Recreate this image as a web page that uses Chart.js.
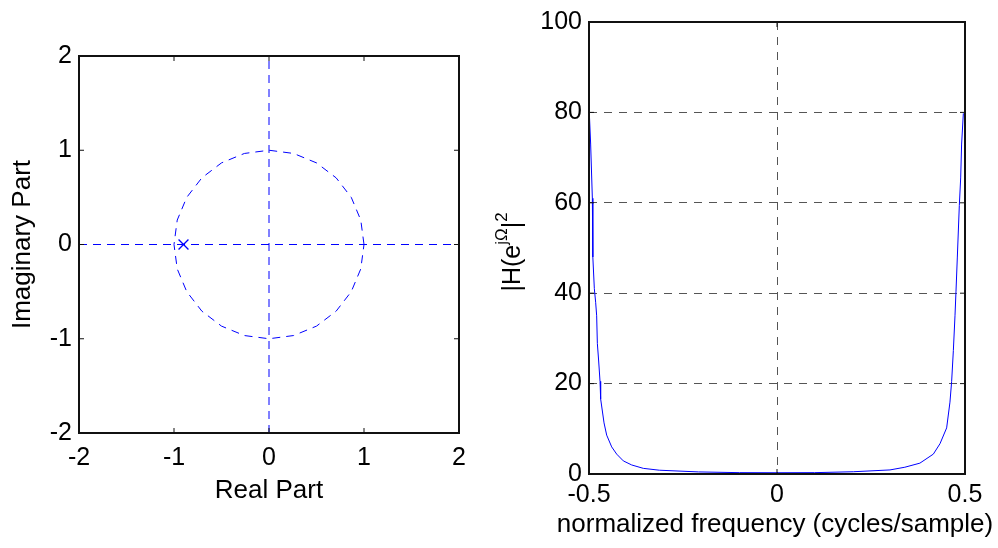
<!DOCTYPE html>
<html lang="en">
<head>
    <meta charset="UTF-8">
    <title>Pole-zero plot and magnitude response</title>
    <style>
        html, body {
            margin: 0;
            padding: 0;
            background: #fff;
        }
        .wrap {
            position: relative;
            width: 998px;
            height: 548px;
        }
        #zplane {
            position: absolute;
            left: 0;
            top: 0;
        }
        #magresp {
            position: absolute;
            left: 480px;
            top: 0;
        }
    </style>
    <script src="https://cdn.jsdelivr.net/npm/chart.js"></script>
</head>
<body>
    <div class="wrap">
        <canvas id="zplane" width="480" height="548"></canvas>
        <canvas id="magresp" width="518" height="548"></canvas>
    </div>

    <script>
        // left plot: unit circle, axes and the pole
        const circleRe = [1, 0.966, 0.866, 0.707, 0.5, 0.259, 0, -0.259, -0.5, -0.707, -0.866, -0.966, -1,
                          -0.966, -0.866, -0.707, -0.5, -0.259, 0, 0.259, 0.5, 0.707, 0.866, 0.966, 1];
        const circleIm = [0, 0.259, 0.5, 0.707, 0.866, 0.966, 1, 0.966, 0.866, 0.707, 0.5, 0.259, 0,
                          -0.259, -0.5, -0.707, -0.866, -0.966, -1, -0.966, -0.866, -0.707, -0.5, -0.259, 0];
        const realAxisRe = [-2, 2];
        const realAxisIm = [0, 0];
        const imagAxisRe = [0, 0];
        const imagAxisIm = [-2, 2];
        const poleRe = [-0.9];
        const poleIm = [0];
        const zTicks = [-2, -1, 0, 1, 2];

        // right plot: |H|^2 against normalized frequency
        const freq = [-0.4991, -0.4956, -0.4911, -0.4902, -0.4894, -0.4858, -0.4823, -0.4796, -0.4778, -0.4743,
                      -0.4707, -0.469, -0.460, -0.453, -0.4397, -0.4264, -0.4087, -0.3865, -0.3556, -0.313,
                      -0.209, -0.1, 0, 0.1, 0.203, 0.3005, 0.340, 0.380, 0.4158, 0.4335,
                      0.4512, 0.460, 0.4645, 0.469, 0.4734, 0.476, 0.4796, 0.4849, 0.4885, 0.491, 0.4956];
        const magSq = [79.8, 73, 61, 56, 48, 41, 38, 35, 28.9, 25,
                       20.5, 16.6, 11.3, 8.6, 6, 4.4, 2.9, 2, 1.25, 0.84,
                       0.46, 0.3, 0.28, 0.3, 0.5, 0.9, 1.5, 2.4, 4.4, 6.7,
                       10.2, 15.9, 20.5, 27.3, 35, 40.3, 48, 59.4, 65.5, 73, 79.8];
        const freqTicks = [-0.5, 0, 0.5];
        const magTicks = [0, 20, 40, 60, 80, 100];

        const family = '"Liberation Sans", Arial, sans-serif';
        Chart.defaults.font.family = family;
        Chart.defaults.font.size = 25;
        Chart.defaults.color = '#000';
        Chart.defaults.animation = false;

        const blue = '#0000ff';
        const pts = (xs, ys) => xs.map((v, i) => ({x: v, y: ys[i]}));

        // box round the axes plus small inward ticks on every side
        const boxPlugin = {
            id: 'box',
            afterDatasetsDraw(chart) {
                const {ctx, chartArea: a, scales: {x, y}} = chart;
                const len = 5;
                ctx.save();
                ctx.strokeStyle = '#111';
                ctx.lineWidth = 1;
                ctx.beginPath();
                x.ticks.forEach(t => {
                    const px = x.getPixelForValue(t.value);
                    ctx.moveTo(px, a.bottom); ctx.lineTo(px, a.bottom - len);
                    ctx.moveTo(px, a.top); ctx.lineTo(px, a.top + len);
                });
                y.ticks.forEach(t => {
                    const py = y.getPixelForValue(t.value);
                    ctx.moveTo(a.left, py); ctx.lineTo(a.left + len, py);
                    ctx.moveTo(a.right, py); ctx.lineTo(a.right - len, py);
                });
                ctx.stroke();
                ctx.lineWidth = 2;
                ctx.strokeRect(a.left, a.top, a.right - a.left, a.bottom - a.top);
                ctx.restore();
            }
        };

        new Chart(document.getElementById('zplane'), {
            type: 'scatter',
            data: {
                datasets: [
                    {data: pts(circleRe, circleIm), showLine: true, borderColor: blue, borderWidth: 1,
                     borderDash: [8, 6], pointRadius: 0},
                    {data: pts(realAxisRe, realAxisIm), showLine: true, borderColor: blue, borderWidth: 1,
                     borderDash: [8, 6], pointRadius: 0},
                    {data: pts(imagAxisRe, imagAxisIm), showLine: true, borderColor: blue, borderWidth: 1,
                     borderDash: [8, 6], pointRadius: 0},
                    {data: pts(poleRe, poleIm), showLine: false, borderColor: blue, backgroundColor: blue,
                     pointBorderColor: blue, pointBackgroundColor: blue,
                     pointStyle: 'crossRot', pointRadius: 7, pointBorderWidth: 1.3}
                ]
            },
            options: {
                responsive: false,
                layout: {padding: {left: 0, top: 56, right: 21, bottom: 42}},
                plugins: {legend: {display: false}, tooltip: {enabled: false}},
                scales: {
                    x: {
                        type: 'linear', min: -2, max: 2,
                        afterBuildTicks: s => { s.ticks = zTicks.map(v => ({value: v})); },
                        ticks: {padding: 10},
                        grid: {display: false, drawTicks: false},
                        border: {display: false},
                        title: {display: true, text: 'Real Part', font: {size: 26}, padding: {top: 0, bottom: 0}},
                        afterFit: s => { s.height = 73; }
                    },
                    y: {
                        type: 'linear', min: -2, max: 2,
                        afterBuildTicks: s => { s.ticks = zTicks.map(v => ({value: v})); },
                        ticks: {padding: 7},
                        grid: {display: false, drawTicks: false},
                        border: {display: false},
                        title: {display: true, text: 'Imaginary Part', font: {size: 26}, padding: {top: 7, bottom: 0}},
                        afterFit: s => { s.width = 79; }
                    }
                }
            },
            plugins: [boxPlugin]
        });

        // axis labels of the right plot: the x one is wider than the axes,
        // the y one has superscripts, |H(e^jΩ|^2 as in the original
        const magLabels = {
            id: 'magLabels',
            afterDraw(chart) {
                const {ctx, chartArea: a} = chart;
                const big = '25px ' + family;
                const small = '17px ' + family;
                ctx.save();
                ctx.fillStyle = '#000';
                ctx.textBaseline = 'middle';
                ctx.textAlign = 'center';
                ctx.font = '26px ' + family;
                ctx.fillText('normalized frequency (cycles/sample)', (a.left + a.right) / 2 - 2, 525);

                const parts = [['|H(e', big, 0], ['j\u03A9', small, -11], ['|', big, 0], ['2', small, -11]];
                ctx.textAlign = 'left';
                let w = 0;
                parts.forEach(p => { ctx.font = p[1]; w += ctx.measureText(p[0]).width; });
                ctx.translate(33, (a.top + a.bottom) / 2 + 4);
                ctx.rotate(-Math.PI / 2);
                let x = -w / 2;
                parts.forEach(p => {
                    ctx.font = p[1];
                    ctx.fillText(p[0], x, p[2]);
                    x += ctx.measureText(p[0]).width;
                });
                ctx.restore();
            }
        };

        const gridColor = '#555';

        new Chart(document.getElementById('magresp'), {
            type: 'scatter',
            data: {
                datasets: [
                    {data: pts(freq, magSq), showLine: true, borderColor: blue, borderWidth: 1, pointRadius: 0}
                ]
            },
            options: {
                responsive: false,
                layout: {padding: {left: 0, top: 17, right: 33, bottom: 8}},
                plugins: {legend: {display: false}, tooltip: {enabled: false}},
                scales: {
                    x: {
                        type: 'linear', min: -0.5, max: 0.5,
                        afterBuildTicks: s => { s.ticks = freqTicks.map(v => ({value: v})); },
                        ticks: {padding: 6},
                        grid: {color: gridColor, drawTicks: false},
                        border: {display: false, dash: [8, 7]},
                        afterFit: s => { s.height = 66; }
                    },
                    y: {
                        type: 'linear', min: 0, max: 100,
                        afterBuildTicks: s => { s.ticks = magTicks.map(v => ({value: v})); },
                        ticks: {padding: 7},
                        grid: {color: gridColor, drawTicks: false},
                        border: {display: false, dash: [8, 7]},
                        afterFit: s => { s.width = 109; }
                    }
                }
            },
            plugins: [boxPlugin, magLabels]
        });
    </script>
</body>
</html>
